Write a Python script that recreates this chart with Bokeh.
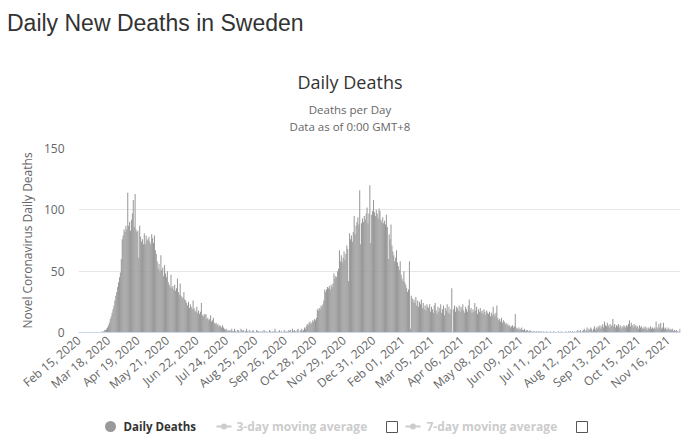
import math
from bokeh.plotting import figure
from bokeh.layouts import column
from bokeh.models import Range1d, FixedTicker, Label, ColumnDataSource, Div
from bokeh.embed import file_html
from bokeh.resources import INLINE

# ---- data: daily deaths, Sweden, starting 2020-02-15 ----
feb_2020 = [0, 0, 0, 0, 0, 0, 0, 0, 0, 0, 0, 0, 0, 0, 0]
mar_2020 = [0, 0, 0, 0, 0, 0, 0, 0, 0, 0, 1, 0, 1, 2, 2, 3, 4, 6, 8, 11, 13, 16, 19, 22, 26, 30, 33, 37, 41, 45, 49]
apr_2020 = [60, 76, 79, 84, 82, 87, 84, 114, 87, 90, 83, 92, 97, 108, 86, 113, 84, 82, 83, 61, 87, 78, 74, 76, 72, 81, 72, 79, 75, 76]
may_2020 = [78, 74, 72, 80, 77, 73, 79, 67, 64, 58, 52, 56, 50, 63, 51, 53, 46, 55, 48, 45, 50, 41, 39, 37, 47, 36, 38, 35, 39, 34, 36]
jun_2020 = [44, 33, 31, 40, 30, 28, 29, 33, 27, 26, 24, 22, 25, 20, 23, 21, 19, 26, 20, 18, 17, 21, 16, 18, 15, 17, 24, 14, 13, 15]
jul_2020 = [14, 15, 11, 12, 10, 11, 14, 9, 10, 12, 8, 7, 8, 6, 7, 5, 6, 5, 4, 6, 4, 3, 2, 3, 1, 2, 1, 2, 1, 3, 1]
aug_2020 = [1, 3, 1, 0, 2, 2, 1, 0, 3, 2, 1, 2, 0, 1, 3, 1, 0, 2, 1, 0, 1, 2, 1, 0, 0, 2, 1, 1, 0, 1, 0]
sep_2020 = [1, 0, 2, 1, 0, 1, 0, 0, 2, 1, 0, 1, 0, 1, 3, 1, 0, 0, 1, 2, 0, 1, 0, 0, 2, 1, 0, 1, 0, 2]
oct_2020 = [1, 2, 0, 3, 1, 2, 1, 0, 2, 3, 1, 0, 2, 3, 1, 2, 4, 3, 5, 7, 6, 8, 9, 7, 8, 10, 9, 11, 10, 12, 19]
nov_2020 = [18, 20, 19, 22, 21, 23, 26, 35, 33, 35, 37, 36, 38, 35, 39, 37, 40, 48, 44, 46, 45, 50, 52, 67, 58, 63, 57, 61, 66, 59]
dec_2020 = [64, 71, 68, 42, 81, 76, 79, 74, 82, 95, 80, 87, 90, 94, 88, 116, 72, 89, 93, 90, 95, 92, 97, 102, 89, 97, 120, 73, 96, 99, 108]
jan_2021 = [98, 95, 100, 97, 93, 101, 99, 92, 90, 94, 89, 91, 88, 96, 86, 60, 80, 76, 88, 71, 66, 63, 58, 61, 67, 57, 54, 51, 58, 47, 44]
feb_2021 = [42, 50, 41, 39, 36, 33, 35, 58, 3, 30, 28, 25, 27, 24, 29, 22, 26, 21, 25, 23, 27, 20, 24, 19, 22, 18, 23, 21]
mar_2021 = [20, 23, 17, 21, 19, 16, 22, 24, 18, 15, 21, 17, 20, 23, 16, 19, 22, 14, 20, 18, 23, 16, 21, 15, 19, 36, 0, 19, 22, 17, 21]
apr_2021 = [20, 18, 22, 17, 21, 19, 23, 18, 16, 21, 19, 17, 22, 27, 18, 20, 16, 19, 17, 24, 18, 21, 15, 19, 17, 20, 16, 18, 15, 19]
may_2021 = [17, 14, 18, 16, 15, 17, 13, 16, 14, 21, 15, 13, 16, 22, 12, 10, 11, 9, 12, 8, 10, 9, 7, 8, 6, 7, 5, 6, 4, 5, 6]
jun_2021 = [4, 5, 15, 4, 3, 3, 4, 2, 3, 4, 2, 2, 3, 1, 2, 2, 1, 1, 2, 1, 1, 0, 1, 1, 0, 1, 0, 1, 0, 1]
jul_2021 = [1, 0, 0, 1, 0, 0, 1, 0, 0, 0, 1, 0, 0, 0, 1, 0, 0, 0, 0, 1, 0, 0, 1, 0, 0, 0, 0, 1, 0, 0, 1]
aug_2021 = [0, 1, 0, 1, 0, 1, 0, 0, 1, 2, 0, 1, 2, 0, 1, 2, 3, 1, 2, 4, 1, 3, 2, 4, 3, 1, 3, 5, 2, 4, 3]
sep_2021 = [5, 4, 6, 3, 5, 7, 4, 9, 6, 5, 8, 6, 4, 7, 5, 6, 11, 5, 7, 4, 6, 5, 7, 4, 6, 3, 5, 4, 6, 5]
oct_2021 = [4, 6, 5, 7, 10, 5, 8, 6, 4, 7, 5, 6, 4, 5, 3, 6, 4, 5, 3, 4, 3, 5, 3, 4, 2, 4, 3, 5, 3, 4, 3]
nov_2021 = [4, 3, 9, 4, 3, 7, 4, 8, 3, 4, 8, 3, 4, 3, 2, 4, 3, 2, 3, 2, 3, 1, 2, 1, 2, 1, 0, 1, 3]

tick_labels = ["Feb 15, 2020", "Mar 18, 2020", "Apr 19, 2020", "May 21, 2020", "Jun 22, 2020",
               "Jul 24, 2020", "Aug 25, 2020", "Sep 26, 2020", "Oct 28, 2020", "Nov 29, 2020",
               "Dec 31, 2020", "Feb 01, 2021", "Mar 05, 2021", "Apr 06, 2021", "May 08, 2021",
               "Jun 09, 2021", "Jul 11, 2021", "Aug 12, 2021", "Sep 13, 2021", "Oct 15, 2021",
               "Nov 16, 2021"]
tick_step = 32
y_ticks = [0, 50, 100, 150]
series_names = ["Daily Deaths", "3-day moving average", "7-day moving average"]

deaths = (feb_2020 + mar_2020 + apr_2020 + may_2020 + jun_2020 + jul_2020 + aug_2020 + sep_2020
          + oct_2020 + nov_2020 + dec_2020 + jan_2021 + feb_2021 + mar_2021 + apr_2021 + may_2021
          + jun_2021 + jul_2021 + aug_2021 + sep_2021 + oct_2021 + nov_2021)
idx = list(range(len(deaths)))

W = 700
FONT = "Open Sans"
BAR = "#999999"
FL, FR = 78, 20

# ---------- header (canvas y 0..138) ----------
HEAD_H = 138


def line(text, top, size, lh, color, font, left=None):
    pos = f"left:{left}px;" if left is not None else "left:0px;width:700px;text-align:center;"
    return (f'<div style="position:absolute;{pos}top:{top}px;font-family:\'{font}\';'
            f'font-size:{size}px;line-height:{lh}px;color:{color};white-space:nowrap;">{text}</div>')


header_html = ('<div style="position:relative;width:700px;height:%dpx;margin:0;padding:0;">' % HEAD_H
               + line("Daily New Deaths in Sweden", 8, 23, 30, "#333333", "Liberation Sans", left=7)
               + line("Daily Deaths", 70, 18, 24, "#333333", FONT)
               + line("Deaths per Day", 103, 11.5, 14, "#666666", FONT)
               + line("Data as of 0:00 GMT+8", 119.5, 11.5, 14, "#666666", FONT)
               + '</div>')
header = Div(text=header_html, width=W, height=HEAD_H, margin=0)

# ---------- main chart (canvas y 138..402, frame 148..332) ----------
p = figure(width=W, height=264, output_backend="svg", toolbar_location=None,
           x_range=Range1d(-0.5, len(deaths) - 0.5), y_range=Range1d(0, 150),
           min_border_left=FL, min_border_right=FR, min_border_top=10, min_border_bottom=70)
p.outline_line_color = None
p.background_fill_color = "white"
p.border_fill_color = "white"

src = ColumnDataSource(dict(x=idx, y=deaths))
p.vbar(x="x", top="y", width=1.12, source=src, fill_color=BAR, line_color=None)

p.xgrid.grid_line_color = None
p.ygrid.grid_line_color = "#e6e6e6"
p.ygrid.ticker = FixedTicker(ticks=y_ticks)

xa = p.xaxis[0]
xa.ticker = FixedTicker(ticks=[i * tick_step for i in range(len(tick_labels))])
xa.major_label_overrides = {i * tick_step: lab for i, lab in enumerate(tick_labels)}
xa.major_label_orientation = 0.7
xa.major_label_text_font = FONT
xa.major_label_text_font_size = "12px"
xa.major_label_text_color = "#666666"
xa.major_tick_out = 0
xa.major_tick_in = 0
xa.major_label_standoff = 6
xa.axis_line_color = "#ccd6eb"
xa.major_tick_line_color = None
xa.minor_tick_line_color = None

ya = p.yaxis[0]
ya.ticker = FixedTicker(ticks=y_ticks)
ya.axis_line_color = None
ya.major_tick_line_color = None
ya.minor_tick_line_color = None
ya.major_tick_out = 0
ya.major_tick_in = 0
ya.major_label_text_font = FONT
ya.major_label_text_font_size = "12px"
ya.major_label_text_color = "#666666"
ya.major_label_standoff = 14
ya.axis_label = "Novel Coronavirus Daily Deaths"
ya.axis_label_text_font = FONT
ya.axis_label_text_font_size = "12px"
ya.axis_label_text_font_style = "normal"
ya.axis_label_text_color = "#666666"
ya.axis_label_standoff = 5

# ---------- legend (canvas y 402..442); frame aligned to 78..680 so data x == canvas x ----------
LEG_H = 40
leg = figure(width=W, height=LEG_H, output_backend="svg", toolbar_location=None,
             x_range=Range1d(FL, W - FR), y_range=Range1d(0, LEG_H),
             x_axis_location=None, y_axis_location=None,
             min_border_left=FL, min_border_right=FR, min_border_top=0, min_border_bottom=0)
leg.outline_line_color = None
leg.xgrid.visible = False
leg.ygrid.visible = False
leg.border_fill_color = "white"
LY = LEG_H - 24  # canvas y 426
leg.scatter(x=[110], y=[LY], size=11, marker="circle", fill_color=BAR, line_color=None)
leg.add_layout(Label(x=123, y=LY, text=series_names[0], text_font=FONT, text_font_size="11.5px",
                     text_font_style="bold", text_color="#333333", text_baseline="middle"))
for lx, tx, bx, lab in [(216, 236, 386, series_names[1]), (405, 426, 576, series_names[2])]:
    leg.segment(x0=[lx], y0=[LY], x1=[lx + 15], y1=[LY], line_color="#cccccc", line_width=2)
    leg.scatter(x=[lx + 7.5], y=[LY], size=6, marker="circle", fill_color="#cccccc", line_color=None)
    leg.add_layout(Label(x=tx, y=LY, text=lab, text_font=FONT, text_font_size="12px",
                         text_font_style="bold", text_color="#cccccc", text_baseline="middle"))
    leg.quad(left=[bx], right=[bx + 11], bottom=[LY - 6], top=[LY + 5], fill_color="white",
             line_color="#555555", line_width=1)

layout = column(header, p, leg, spacing=0)
open("out.html", "w").write(file_html(layout, INLINE))
